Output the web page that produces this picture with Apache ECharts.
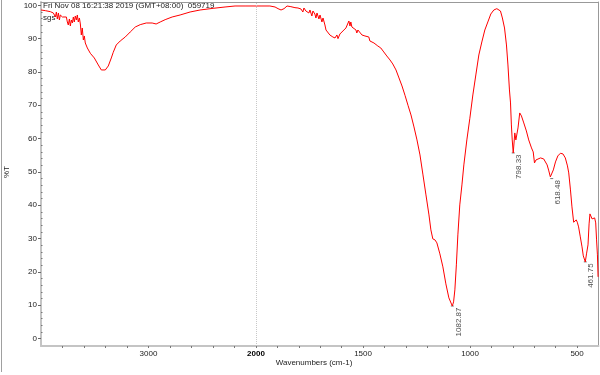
<!DOCTYPE html>
<html><head><meta charset="utf-8">
<script src="https://cdn.jsdelivr.net/npm/echarts@6/dist/echarts.min.js"></script>
<style>html,body{margin:0;padding:0;background:#fff}#c{width:600px;height:375px}</style>
</head><body><div id="c"></div>
<script>
// Wavenumbers (cm-1), from 4000 down to 400
const wavenumbers = [
 4000,3959,3913,3885,3866,3857,3848,3838,3829,3820,3811,3801,3783,3764,3755,3746,3736,3727,3718,3708,
 3699,3690,3681,3671,3662,3653,3643,3634,3625,3616,3606,3597,3588,3578,3569,3560,3541,3504,3467,3439,
 3421,3402,3374,3346,3328,3300,3263,3216,3170,3123,3077,3021,2966,2929,2891,2845,2780,2706,2613,2520,
 2399,2288,2195,2102,2000,
 1972,1935,1911,1897,1883,1869,1855,1837,1818,1804,1790,1781,1776,1767,1762,1753,1748,1739,1734,1725,
 1720,1715,1706,1701,1692,1687,1678,1673,1664,1655,1650,1641,1631,1622,1617,1608,1594,1580,1571,1566,
 1561,1557,1552,1543,1533,1529,1524,1515,1505,1501,1491,1482,1473,1468,1459,1449,1440,1431,1417,1403,
 1389,1374,1361,1346,1332,1318,1304,1290,1276,1262,1248,1234,1220,1206,1192,1183,1174,1164,1155,1141,
 1127,1113,1099,1082.87,1077,1071,1064,1057,1048,1038,1029,1015,1001,987,973,959,945,931,917,903,
 889,875,858,849,839,830,823,816,811,807,803,798.33,791,786,781,776,768,760,749,737,
 726,713,705,699,692,685,671,656,648,640,632,625,618.48,611,601,590,578,566,555,545,
 539,531,524,516,511,504,499,493,485,477,471,461.75,456,449,444,440,435,430,424,418,
 413,409,405,402
];
// %T values matching the wavenumbers above
const transmittance = [
 98.6,98.4,98.1,97.7,96.5,98.0,95.9,97.7,95.6,97.1,97.4,96.5,97.1,96.5,95.0,94.1,95.9,93.8,95.6,94.7,
 96.5,95.0,96.8,95.6,97.1,95.0,96.2,94.4,91.1,93.2,89.6,90.8,88.7,89.3,87.2,87.5,85.6,84.2,82.1,80.6,
 80.0,80.6,81.8,84.2,85.9,88.1,89.3,90.5,92.0,93.5,94.2,94.7,94.7,94.4,95.0,95.7,96.5,97.1,98.0,98.6,
 99.1,99.5,99.8,99.8,99.8,
 99.8,99.8,99.5,99.0,98.6,99.0,99.8,99.6,99.3,99.2,98.9,98.0,99.2,98.3,98.9,97.7,98.6,96.8,98.3,97.4,
 96.2,97.7,95.9,97.1,95.0,96.2,94.1,92.6,92.0,91.1,91.7,90.5,90.2,91.1,90.0,91.4,92.3,93.2,93.5,95.3,
 93.8,95.0,93.5,93.2,92.6,91.7,92.6,92.0,91.1,91.7,90.8,90.2,90.5,89.3,89.3,88.7,88.4,87.8,87.2,86.0,
 84.8,83.6,82.4,80.6,78.2,75.8,73.0,70.0,67.1,63.5,59.6,55.1,49.1,43.1,37.1,32.6,29.9,29.6,28.7,25.4,
 21.5,16.4,12.2,9.75,11.0,14.6,22.1,31.1,40.1,46.1,52.1,59.6,66.1,73.1,79.1,85.1,89.0,92.6,95.0,97.4,
 98.6,99.0,98.3,96.2,93.2,88.1,82.1,74.6,70.7,64.1,59.6,55.7,61.7,59.6,60.2,63.2,67.7,66.8,64.7,62.3,
 59.6,57.2,56.0,52.7,53.6,54.0,54.2,53.9,53.3,52.1,50.3,48.5,48.0,50.6,53.0,54.8,55.6,55.4,54.2,51.8,
 49.7,44.6,39.5,34.9,34.4,35.6,34.9,33.5,30.5,27.5,24.8,23.0,25.4,28.1,34.4,37.4,37.7,35.9,35.6,36.2,
 34.7,29.6,25.1,18.5
];
const peakWavenumbers = [1082.87, 798.33, 618.48, 461.75];
const peakTransmittance = [9.75, 55.7, 48.0, 23.0];
const xLabelsHigh = [3000, 2000];
const xLabelsLow = [500, 1000, 1500];
const xTicksHigh = [2200, 2400, 2600, 2800, 3000, 3200, 3400, 3600, 3800];
const xTicksLow = [500, 600, 700, 800, 900, 1000, 1100, 1200, 1300, 1400, 1500, 1600, 1700, 1800, 1900, 2000];
const yTickLabels = [0, 10, 20, 30, 40, 50, 60, 70, 80, 90, 100];
const yMinorTicks = [2,4,6,8,12,14,16,18,22,24,26,28,32,34,36,38,42,44,46,48,52,54,56,58,62,64,66,68,72,74,76,78,82,84,86,88,92,94,96,98];
const titleText = 'Fri Nov 08 16:21:38 2019 (GMT+08:00)  059719';
const sampleText = 'sgs';
const xName = 'Wavenumbers (cm-1)';
const yName = '%T';

const highPart = [], lowPart = [];
wavenumbers.forEach((w, i) => {
  if (w >= 2000) highPart.push([w, transmittance[i]]);
  if (w <= 2000) lowPart.push([w, transmittance[i]]);
});
const peaks = peakWavenumbers.map((w, i) => [w, peakTransmittance[i]]);

const FONT = '"Liberation Sans", Arial, sans-serif';
const Y_MIN = -2.25, Y_MAX = 101;
const axisGrey = '#c4c4c4';
const labelStyle = { fontSize: 8, color: '#222', fontFamily: FONT };

const chart = echarts.init(document.getElementById('c'), null, { renderer: 'canvas' });
chart.setOption({
  animation: false,
  backgroundColor: '#fff',
  grid: [
    { left: 41, right: 344, top: 2, bottom: 29 },
    { left: 256, right: 1.5, top: 2, bottom: 29 }
  ],
  xAxis: [
    { type: 'value', gridIndex: 0, position: 'bottom', inverse: true, min: 2000, max: 4000,
      axisLine: { onZero: false, lineStyle: { color: axisGrey, width: 2 } },
      axisTick: { customValues: xTicksHigh, length: 2, lineStyle: { color: '#777' } },
      axisLabel: Object.assign({ customValues: xLabelsHigh, margin: 4,
        formatter: v => v === 2000 ? '{b|2000}' : String(v),
        rich: { b: { fontWeight: 'bold', fontSize: 8, color: '#000', fontFamily: FONT } } }, labelStyle),
      splitLine: { show: false } },
    { type: 'value', gridIndex: 1, position: 'bottom', inverse: true, min: 400, max: 2000,
      axisLine: { onZero: false, lineStyle: { color: axisGrey, width: 2 } },
      axisTick: { customValues: xTicksLow, length: 2, lineStyle: { color: '#777' } },
      axisLabel: Object.assign({ customValues: xLabelsLow, margin: 4, formatter: v => String(v) }, labelStyle),
      splitLine: { show: false } },
    { type: 'value', gridIndex: 0, position: 'top', inverse: true, min: 2000, max: 4000,
      axisLine: { onZero: false, lineStyle: { color: '#999', width: 1 } },
      axisTick: { show: false }, axisLabel: { show: false }, splitLine: { show: false } },
    { type: 'value', gridIndex: 1, position: 'top', inverse: true, min: 400, max: 2000,
      axisLine: { onZero: false, lineStyle: { color: '#999', width: 1 } },
      axisTick: { show: false }, axisLabel: { show: false }, splitLine: { show: false } }
  ],
  yAxis: [
    { type: 'value', gridIndex: 0, position: 'left', min: Y_MIN, max: Y_MAX,
      axisLine: { show: true, onZero: false, lineStyle: { color: axisGrey, width: 2 } },
      axisTick: { show: true, customValues: yTickLabels, length: 3, lineStyle: { color: '#666' } },
      axisLabel: Object.assign({ customValues: yTickLabels, margin: 4, formatter: v => String(v) }, labelStyle),
      splitLine: { show: false } },
    { type: 'value', gridIndex: 0, position: 'left', min: Y_MIN, max: Y_MAX,
      axisLine: { show: false, onZero: false },
      axisTick: { show: true, customValues: yMinorTicks, inside: true, length: 1.5, lineStyle: { color: '#777' } },
      axisLabel: { show: false }, splitLine: { show: false } },
    { type: 'value', gridIndex: 1, position: 'right', min: Y_MIN, max: Y_MAX,
      axisLine: { show: true, onZero: false, lineStyle: { color: '#999', width: 1 } },
      axisTick: { show: false }, axisLabel: { show: false }, splitLine: { show: false } }
  ],
  series: [
    { type: 'line', xAxisIndex: 0, yAxisIndex: 0, data: highPart, showSymbol: false,
      lineStyle: { color: '#ff0000', width: 1 }, silent: true },
    { type: 'line', xAxisIndex: 1, yAxisIndex: 2, data: lowPart, showSymbol: false,
      lineStyle: { color: '#ff0000', width: 1 }, silent: true,
      markLine: { silent: true, symbol: 'none', label: { show: false },
        lineStyle: { color: '#c8c8c8', type: 'dotted', width: 1 },
        data: [{ xAxis: 2000 }] } },
    { type: 'scatter', xAxisIndex: 1, yAxisIndex: 2, data: peaks, symbol: 'rect', symbolSize: [3, 1],
      itemStyle: { color: '#555' }, silent: true,
      label: { show: true, formatter: p => p.value[0].toFixed(2), rotate: 90,
        position: [3.5, 2], align: 'right', verticalAlign: 'top',
        fontSize: 8, color: '#222', fontFamily: FONT } }
  ],
  graphic: [
    { type: 'line', shape: { x1: 1.5, y1: 0, x2: 1.5, y2: 372 }, style: { stroke: '#a0a0a0', lineWidth: 1 }, silent: true },
    { type: 'text', left: 43, top: 2, style: { text: titleText, fontSize: 8, fill: '#222', fontFamily: FONT }, silent: true },
    { type: 'text', left: 43, top: 14, style: { text: sampleText, fontSize: 8, fill: '#222', fontFamily: FONT }, silent: true },
    { type: 'text', x: 6.5, y: 172, rotation: Math.PI / 2,
      style: { text: yName, fontSize: 8, fill: '#222', fontFamily: FONT, align: 'center', verticalAlign: 'middle' }, silent: true },
    { type: 'text', x: 314, y: 363,
      style: { text: xName, fontSize: 8, fill: '#222', fontFamily: FONT, align: 'center', verticalAlign: 'middle' }, silent: true }
  ]
});
</script>
</body></html>
